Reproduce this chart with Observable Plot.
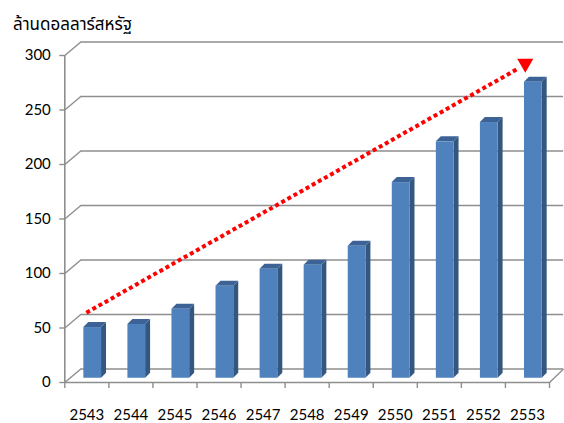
<!DOCTYPE html>
<html>
<head>
<meta charset="utf-8">
<script src="https://cdn.jsdelivr.net/npm/d3@7"></script>
<script src="https://cdn.jsdelivr.net/npm/@observablehq/plot@0.6"></script>
<style>
  html, body { margin: 0; padding: 0; background: #fff; }
  #wrap { position: relative; width: 564px; height: 423px; overflow: hidden; }
  #title { height: 40px; position: relative; }
  #title span { position: absolute; left: 13px; top: 17px; font-family: "Noto Sans Thai", Tahoma, "DejaVu Sans", sans-serif; font-size: 17px; line-height: 1; color: #000; white-space: nowrap; }
</style>
</head>
<body>
<div id="wrap">
  <div id="title"><span>ล้านดอลลาร์สหรัฐ</span></div>
  <div id="chart"></div>
</div>
<script>
// ---- data ----
const years = ["2543", "2544", "2545", "2546", "2547", "2548", "2549", "2550", "2551", "2552", "2553"];
const values = [46.5, 49.3, 63.3, 84.4, 100, 103.7, 121.1, 179.5, 216.9, 234.6, 271.6];
const yTicks = [0, 50, 100, 150, 200, 250, 300];
// trend arrow (x in category units, y in value units)
const trendX = [0.49, 10.29];
const trendY = [64, 288];
const arrowHead = [10.45, 292.7];

// ---- 3D geometry (in scale units) ----
const backDX = 0.363, backDY = 12.4;     // back wall offset
const backRight = 11.32;
const sideDX = 0.113, sideDY = 4.6;      // bar depth
const barL = 0.432, barR = 0.834, base = 3.9;
const gray = "#8e8e8e";
const font = "Lato, 'Open Sans', sans-serif";

const rows = years.map((y, i) => ({ i, year: y, v: values[i] }));
const sideRows = rows.flatMap(d => [
  { i: d.i, x: d.i + barR, y1: base, y2: base + d.v },
  { i: d.i, x: d.i + barR + sideDX, y1: base + sideDY, y2: base + d.v + sideDY }
]);
const topRows = rows.flatMap(d => {
  const t = base + d.v;
  return [
    { i: d.i, x: d.i + barL, y1: t, y2: t },
    { i: d.i, x: d.i + barL + sideDX, y1: t, y2: t + sideDY },
    { i: d.i, x: d.i + barR, y1: t, y2: t + sideDY },
    { i: d.i, x: d.i + barR + sideDX, y1: t + sideDY, y2: t + sideDY }
  ];
});
const trend = trendX.map((x, k) => ({ x, y: trendY[k] }));

const chart = Plot.plot({
  width: 564,
  height: 383,
  marginTop: 15,
  marginBottom: 41,
  marginLeft: 64.3,
  marginRight: 15,
  x: { type: "linear", domain: [0, 11], label: null },
  y: { type: "linear", domain: [0, 300], label: null },
  style: { fontFamily: font, fontSize: "14.5px", color: "#000", background: "#fff" },
  marks: [
    // back wall gridlines
    Plot.ruleY(yTicks, { y: d => d + backDY, x1: backDX, x2: backRight, stroke: gray, strokeWidth: 1.6 }),
    // left wall diagonals
    Plot.link(yTicks, { x1: 0, y1: d => d, x2: backDX, y2: d => d + backDY, stroke: gray, strokeWidth: 1.4 }),
    // floor right edge
    Plot.link([0], { x1: 11, y1: 0, x2: backRight, y2: backDY, stroke: gray, strokeWidth: 1.4 }),
    // bars: side, top, front
    Plot.area(sideRows, { x1: "x", y1: "y1", y2: "y2", z: "i", fill: "#34577f" }),
    Plot.area(topRows, { x1: "x", y1: "y1", y2: "y2", z: "i", fill: "#3d6396" }),
    Plot.rect(rows, { x1: d => d.i + barL, x2: d => d.i + barR, y1: base, y2: d => base + d.v, fill: "#4f81bd" }),
    // front floor edge and y axis line
    Plot.ruleY([0], { x1: 0, x2: 11, stroke: gray, strokeWidth: 1.6 }),
    Plot.ruleX([0], { y1: 0, y2: 300, stroke: gray, strokeWidth: 1.6 }),
    Plot.axisY(yTicks, { tickSize: 5, tickPadding: 9, stroke: gray, strokeWidth: 1.4, fill: "#000", label: null, fontSize: 15 }),
    Plot.axisX(d3.range(12), { tickSize: 6, tickFormat: () => "", stroke: gray, strokeWidth: 1.4, label: null }),
    Plot.axisX(d3.range(11).map(i => i + 0.5), { tickSize: 0, tickPadding: 27, tickFormat: d => years[Math.floor(d)], fill: "#000", label: null, fontSize: 15 }),
    // trend arrow (dotted)
    Plot.link([trend], {
      x1: d => d[0].x, y1: d => d[0].y, x2: d => d[1].x, y2: d => d[1].y,
      stroke: "#ff0000", strokeWidth: 4, strokeDasharray: "4,3", strokeLinecap: "butt"
    }),
    Plot.dot([arrowHead], { x: d => d[0], y: d => d[1], symbol: "triangle", r: 6, fill: "#ff0000", rotate: 60 })
  ]
});
document.getElementById("chart").appendChild(chart);
</script>
</body>
</html>
